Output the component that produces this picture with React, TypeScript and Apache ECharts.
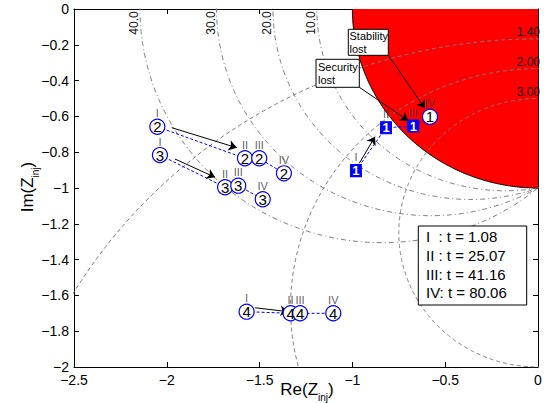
import React, { useEffect, useRef } from 'react';
import * as echarts from 'echarts';

const FONT = '"Liberation Sans", Arial, Helvetica, sans-serif';

// stage names & times
const stageNames = ['I', 'II', 'III', 'IV'];
const stageTimes = ['1.08', '25.07', '41.16', '80.06'];

// Z_inj trajectories (Re, Im) per bus, stages I..IV
const re1 = [-0.981, -0.819, -0.672, -0.582];
const im1 = [-0.903, -0.663, -0.654, -0.602];
const re2 = [-2.051, -1.579, -1.502, -1.369];
const im2 = [-0.658, -0.834, -0.834, -0.918];
const re3 = [-2.037, -1.686, -1.615, -1.483];
const im3 = [-0.816, -0.996, -0.987, -1.063];
const re4 = [-1.57, -1.333, -1.282, -1.103];
const im4 = [-1.691, -1.7, -1.7, -1.7];

// contour families
const angleContours = [10, 20, 30, 40]; // degrees
const ratioContours = [1.4, 2.0, 3.0];
const stabilityRadius = 1;

// black direction arrows (from -> to), data coords
const arrowFrom = [[-0.963, -0.862], [-1.974, -0.663], [-1.956, -0.838], [-1.525, -1.669]];
const arrowTo = [[-0.878, -0.713], [-1.623, -0.775], [-1.74, -0.94], [-1.345, -1.691]];
const stabilityArrow = [[-0.807, -0.257], [-0.609, -0.555]];
const securityArrow = [[-0.963, -0.437], [-0.699, -0.624]];

const groups = [
  { re: re1, im: im1 },
  { re: re2, im: im2 },
  { re: re3, im: im3 },
  { re: re4, im: im4 },
];

function circlePoints(cx: number, cy: number, r: number, n = 720) {
  const pts: number[][] = [];
  for (let i = 0; i <= n; i++) {
    const t = (2 * Math.PI * i) / n;
    pts.push([cx + r * Math.cos(t), cy + r * Math.sin(t)]);
  }
  return pts;
}

const fmt = (v: number) => {
  const r = Math.round(v * 10) / 10;
  return r === 0 ? '0' : (r < 0 ? '\u2212' : '') + String(Math.abs(r));
};

function buildOption(): any {
  const series: any[] = [];

  // red instability region (|Z| < 1)
  series.push({
    type: 'custom',
    z: 1,
    silent: true,
    data: [[-0.5, -0.5]],
    renderItem: (_p: any, api: any) => {
      const arc: number[][] = [];
      for (let i = 0; i <= 120; i++) {
        const t = (Math.PI / 2) * (i / 120);
        arc.push(api.coord([-stabilityRadius * Math.cos(t), -stabilityRadius * Math.sin(t)]));
      }
      const poly = arc.concat([api.coord([0, 0])]);
      return {
        type: 'group',
        children: [
          { type: 'polygon', shape: { points: poly }, style: { fill: '#ff0000' } },
          { type: 'polyline', shape: { points: arc }, style: { stroke: '#000', lineWidth: 1, fill: null } },
        ],
      };
    },
  });

  // Apollonius circles |Z-j|/|Z+j| = k
  ratioContours.forEach((k) => {
    const cy = -(k * k + 1) / (k * k - 1);
    const r = (2 * k) / (k * k - 1);
    series.push({
      type: 'line',
      z: 2,
      silent: true,
      showSymbol: false,
      symbol: 'none',
      data: circlePoints(0, cy, r),
      lineStyle: { color: '#7a7a7a', width: 1, type: [4, 3] },
    });
  });

  // constant-angle arcs through +-j
  angleContours.forEach((a) => {
    const rad = (a * Math.PI) / 180;
    series.push({
      type: 'line',
      z: 2,
      silent: true,
      showSymbol: false,
      symbol: 'none',
      data: circlePoints(-Math.tan(rad), 0, 1 / Math.cos(rad)),
      lineStyle: { color: '#7a7a7a', width: 1, type: [5, 3, 1, 3] },
    });
  });

  // blue dashed trajectories
  groups.forEach((g) => {
    series.push({
      type: 'line',
      z: 3,
      silent: true,
      symbol: 'none',
      data: g.re.map((x, i) => [x, g.im[i]]),
      lineStyle: { color: '#0000ff', width: 1, type: [3, 2] },
    });
  });

  // black arrows
  series.push({
    type: 'lines',
    coordinateSystem: 'cartesian2d',
    z: 4,
    silent: true,
    symbol: ['none', 'arrow'],
    symbolSize: 8,
    lineStyle: { color: '#000', width: 1, opacity: 1 },
    data: arrowFrom
      .map((f, i) => ({ coords: [f, arrowTo[i]] }))
      .concat([{ coords: stabilityArrow }, { coords: securityArrow }]),
  });

  // markers
  const markerData: any[] = [];
  const romanData: any[] = [];
  groups.forEach((g, gi) => {
    g.re.forEach((x, i) => {
      const sq = gi === 0 && i < 3;
      markerData.push({
        name: String(gi + 1),
        value: [x, g.im[i]],
        symbol: sq ? 'rect' : 'circle',
        symbolSize: sq ? [11, 12] : 15,
        itemStyle: sq
          ? { color: '#0000ff', borderColor: '#0000ff', borderWidth: 1, opacity: 1 }
          : { color: '#ffffff', borderColor: '#0000ff', borderWidth: 1.2, opacity: 1 },
        label: sq ? { color: '#ffffff', fontWeight: 'bold', fontSize: 13 } : { color: '#000', fontSize: 15 },
      });
      romanData.push({ name: stageNames[i], value: [x, g.im[i]] });
    });
  });
  series.push({
    type: 'scatter',
    z: 5,
    silent: true,
    itemStyle: { opacity: 1 },
    data: markerData,
    label: {
      show: true,
      position: 'inside',
      formatter: (p: any) => p.name,
      fontFamily: FONT,
    },
  });
  series.push({
    type: 'scatter',
    z: 6,
    silent: true,
    symbolSize: 0,
    itemStyle: { color: 'transparent' },
    data: romanData,
    label: {
      show: true,
      position: 'inside',
      offset: [0, -13.5],
      formatter: (p: any) => p.name,
      fontFamily: FONT,
      fontSize: 11,
      color: '#333',
    },
  });

  const axisCommon = {
    axisLine: { show: true, onZero: false, lineStyle: { color: '#000', width: 1 } },
    axisTick: { show: true, inside: true, length: 5, lineStyle: { color: '#000' } },
    splitLine: { show: false },
  };

  return {
    animation: false,
    grid: { left: 74, top: 9, width: 464, height: 358 },
    xAxis: [
      {
        ...axisCommon,
        type: 'value',
        position: 'bottom',
        min: -2.5,
        max: 0,
        interval: 0.5,
        axisLabel: { color: '#000', fontSize: 14, fontFamily: FONT, margin: 6, formatter: fmt },
      },
      {
        ...axisCommon,
        type: 'value',
        position: 'top',
        min: -2.5,
        max: 0,
        interval: 0.5,
        axisLabel: { show: false },
      },
    ],
    yAxis: [
      {
        ...axisCommon,
        type: 'value',
        position: 'left',
        min: -2,
        max: 0,
        interval: 0.2,
        axisLabel: { color: '#000', fontSize: 14, fontFamily: FONT, margin: 5, formatter: fmt },
      },
      {
        ...axisCommon,
        type: 'value',
        position: 'right',
        min: -2,
        max: 0,
        interval: 0.2,
        axisLabel: { show: false },
      },
    ],
    series,
  };
}

function buildGraphic(chart: any): any[] {
  const g: any[] = [];
  const toPx = (p: number[]) => chart.convertToPixel({ gridIndex: 0 }, p) as number[];

  // angle contour labels
  angleContours.forEach((a) => {
    const rad = (a * Math.PI) / 180;
    const xc = -Math.tan(rad) - 1 / Math.cos(rad);
    const p = toPx([xc, 0]);
    g.push({
      type: 'text',
      x: p[0] - 5.5,
      y: p[1] + 14,
      rotation: Math.PI / 2,
      z: 50,
      style: {
        text: a.toFixed(1),
        fontSize: 12,
        fontFamily: FONT,
        fill: '#111',
        align: 'center',
        verticalAlign: 'middle',
      },
    });
  });

  // ratio contour labels
  ratioContours.forEach((k) => {
    const yc = (1 - k) / (1 + k);
    const p = toPx([0, yc]);
    g.push({
      type: 'text',
      x: p[0] + 2,
      y: p[1] - 6.5,
      z: 50,
      style: {
        text: k.toFixed(2),
        fontSize: 12,
        fontFamily: FONT,
        fill: '#111',
        align: 'right',
        verticalAlign: 'middle',
      },
    });
  });

  // annotation boxes
  g.push({
    type: 'rect',
    z: 60,
    shape: { x: 348.3, y: 29.3, width: 40, height: 26 },
    style: { fill: '#fff', stroke: '#000', lineWidth: 1 },
  });
  g.push({
    type: 'text',
    z: 61,
    x: 349.5,
    y: 29.5,
    style: { text: 'Stability\nlost', fontSize: 11, lineHeight: 13, fontFamily: FONT, fill: '#000', align: 'left', verticalAlign: 'top' },
  });
  g.push({
    type: 'rect',
    z: 60,
    shape: { x: 316, y: 59.3, width: 43.3, height: 28 },
    style: { fill: '#fff', stroke: '#000', lineWidth: 1 },
  });
  g.push({
    type: 'text',
    z: 61,
    x: 318,
    y: 60.8,
    style: { text: 'Security\nlost', fontSize: 11, lineHeight: 12.5, fontFamily: FONT, fill: '#000', align: 'left', verticalAlign: 'top' },
  });

  // stage time box
  g.push({
    type: 'rect',
    z: 60,
    shape: { x: 418.3, y: 226, width: 108.4, height: 79 },
    style: { fill: '#fff', stroke: '#000', lineWidth: 1 },
  });
  const pads = ['  ', ' ', '', ''];
  g.push({
    type: 'text',
    z: 61,
    x: 426,
    y: 227.3,
    style: {
      text: stageNames.map((s, i) => `${s}${pads[i]}: t = ${stageTimes[i]}`).join('\n'),
      fontSize: 15,
      lineHeight: 18.7,
      fontFamily: FONT,
      fill: '#000',
      align: 'left',
      verticalAlign: 'top',
    },
  });

  // axis titles
  const rich = {
    a: { fontSize: 17, fontFamily: FONT, lineHeight: 26, verticalAlign: 'middle', fill: '#000' },
    b: { fontSize: 10, fontFamily: FONT, lineHeight: 10, verticalAlign: 'bottom', fill: '#000' },
  };
  g.push({
    type: 'text',
    z: 50,
    x: 307,
    y: 389,
    style: { text: '{a|Re(Z}{b|inj}{a|)}', rich, align: 'center', verticalAlign: 'middle' },
  });
  g.push({
    type: 'text',
    z: 50,
    x: 27,
    y: 187,
    rotation: Math.PI / 2,
    style: { text: '{a|Im(Z}{b|inj}{a|)}', rich, align: 'center', verticalAlign: 'middle' },
  });
  return g;
}

export default function App() {
  const ref = useRef<HTMLDivElement>(null);
  useEffect(() => {
    const chart = echarts.init(ref.current as HTMLDivElement, null, { renderer: 'svg' });
    chart.setOption(buildOption());
    chart.setOption({ graphic: buildGraphic(chart) });
    return () => chart.dispose();
  }, []);
  return (
    <div
      ref={ref}
      style={{ position: 'fixed', left: 0, top: 0, width: 556, height: 403, background: '#fff' }}
    />
  );
}
